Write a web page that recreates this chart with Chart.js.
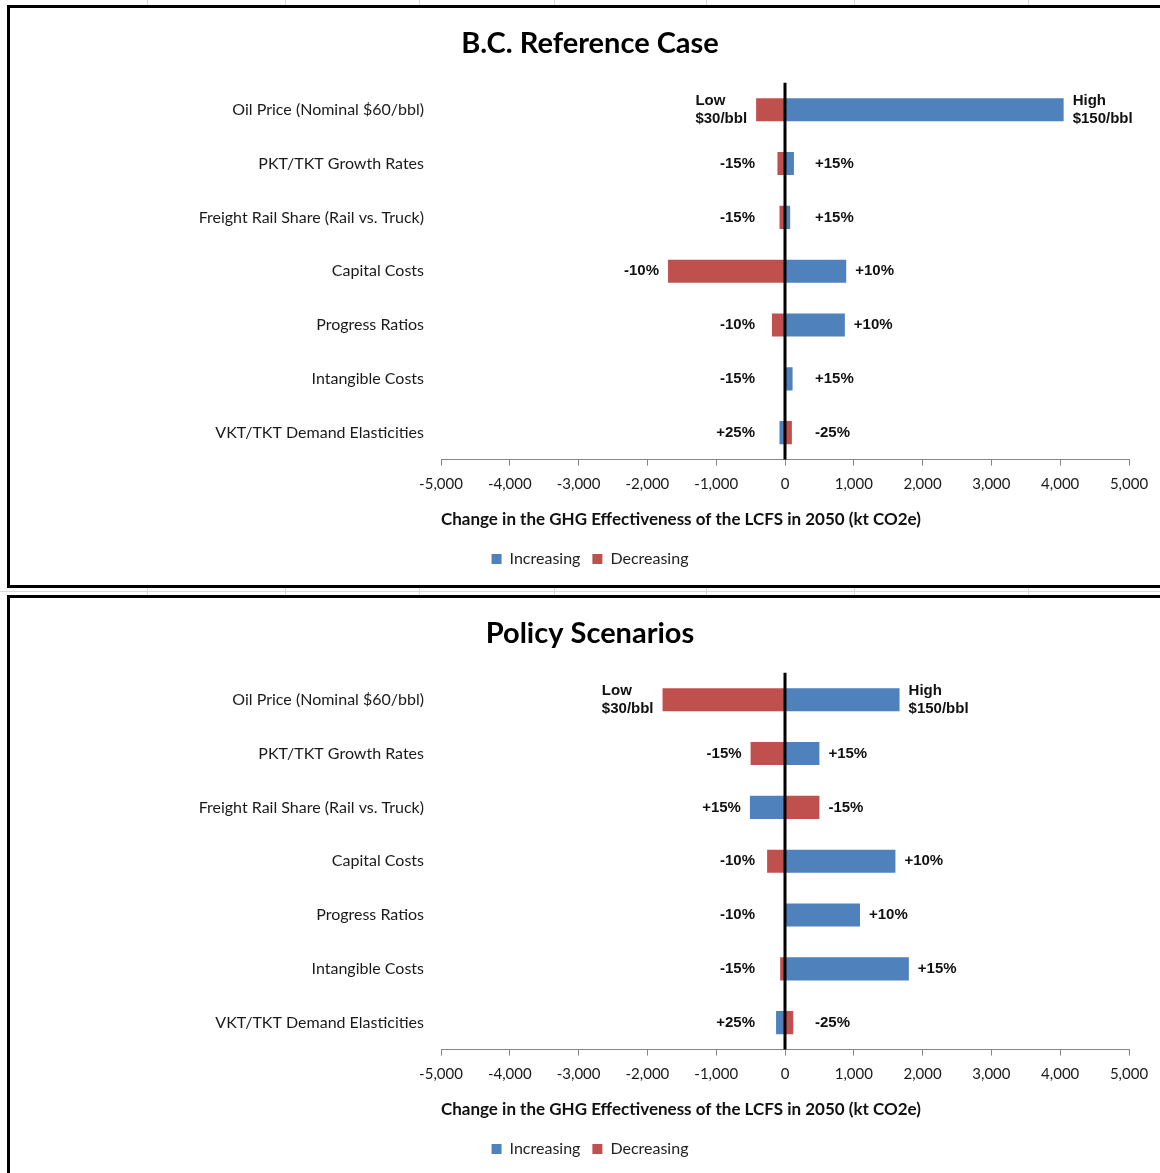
<!DOCTYPE html>
<html>
<head>
<meta charset="utf-8">
<script src="https://cdn.jsdelivr.net/npm/chart.js@4.4.1/dist/chart.umd.min.js"></script>
<style>
  html, body { margin: 0; padding: 0; background: #fff; }
  body { width: 1160px; height: 1173px; position: relative; overflow: hidden; }
  .box { position: absolute; left: 7px; width: 1170px; border: 3px solid #000; background: #fff; }
  #box1 { top: 5px; height: 577px; }
  #box2 { top: 595px; height: 600px; }
  canvas { position: absolute; left: 10px; }
  #chart1 { top: 8px; }
  #chart2 { top: 598px; }
  .cell { position: absolute; background: #d9d9d9; }
</style>
</head>
<body>
<div class="cell" style="left:0;top:591px;width:1160px;height:1px"></div>
<div class="cell" style="left:147px;top:0;width:1px;height:596px"></div>
<div class="cell" style="left:285px;top:0;width:1px;height:596px"></div>
<div class="cell" style="left:419px;top:0;width:1px;height:596px"></div>
<div class="cell" style="left:554px;top:0;width:1px;height:596px"></div>
<div class="cell" style="left:706px;top:0;width:1px;height:596px"></div>
<div class="cell" style="left:854px;top:0;width:1px;height:596px"></div>
<div class="cell" style="left:1028px;top:0;width:1px;height:596px"></div>
<div class="box" id="box1"></div>
<div class="box" id="box2"></div>
<canvas id="chart1" width="1150" height="577"></canvas>
<canvas id="chart2" width="1150" height="577"></canvas>
<script>
const categories = [
  "Oil Price (Nominal $60/bbl)",
  "PKT/TKT Growth Rates",
  "Freight Rail Share (Rail vs. Truck)",
  "Capital Costs",
  "Progress Ratios",
  "Intangible Costs",
  "VKT/TKT Demand Elasticities"
];
const xTickValues = [-5000, -4000, -3000, -2000, -1000, 0, 1000, 2000, 3000, 4000, 5000];

// B.C. Reference Case (kt CO2e)
const refIncreasing = [4050, 130, 75, 890, 870, 110, -80];
const refDecreasing = [-420, -110, -80, -1700, -190, -15, 100];
const refLowLabels = ["Low\n$30/bbl", "-15%", "-15%", "-10%", "-10%", "-15%", "+25%"];
const refHighLabels = ["High\n$150/bbl", "+15%", "+15%", "+10%", "+10%", "+15%", "-25%"];

// Policy Scenarios (kt CO2e)
const policyIncreasing = [1665, 500, -510, 1605, 1090, 1800, -130];
const policyDecreasing = [-1780, -500, 500, -260, 0, -70, 120];
const policyLowLabels = ["Low\n$30/bbl", "-15%", "+15%", "-10%", "-10%", "-15%", "+25%"];
const policyHighLabels = ["High\n$150/bbl", "+15%", "-15%", "+10%", "+10%", "+15%", "-25%"];

const BLUE = "#4F81BD";
const RED = "#C0504D";

// black line at zero, drawn over the bars
const zeroLine = {
  id: "zeroLine",
  afterDatasetsDraw(chart) {
    const { ctx, chartArea, scales } = chart;
    const x = scales.x.getPixelForValue(0);
    ctx.save();
    ctx.strokeStyle = "#000";
    ctx.lineWidth = 3;
    ctx.beginPath();
    ctx.moveTo(x, chartArea.top);
    ctx.lineTo(x, chartArea.bottom);
    ctx.stroke();
    ctx.restore();
  }
};

// low / high sensitivity labels either side of each row
const sideLabels = {
  id: "sideLabels",
  afterDatasetsDraw(chart, args, opts) {
    const { ctx, scales } = chart;
    const zero = scales.x.getPixelForValue(0);
    const gap = 9, minOff = 21, lineH = 18;
    ctx.save();
    ctx.font = "bold 15px 'Liberation Sans', Arial, sans-serif";
    ctx.fillStyle = "#111";
    ctx.textBaseline = "middle";
    categories.forEach((c, i) => {
      let left = zero, right = zero, y = 0;
      chart.data.datasets.forEach((ds, d) => {
        const bar = chart.getDatasetMeta(d).data[i];
        left = Math.min(left, bar.x, bar.base);
        right = Math.max(right, bar.x, bar.base);
        y = bar.y;
      });
      const lo = opts.low[i].split("\n");
      const hi = opts.high[i].split("\n");
      const loEnd = Math.min(left, zero - minOff) - gap;
      const loW = Math.max(...lo.map(t => ctx.measureText(t).width));
      ctx.textAlign = "left";
      lo.forEach((t, k) => {
        ctx.fillText(t, loEnd - loW, y + (k - (lo.length - 1) / 2) * lineH);
      });
      const hiStart = Math.max(right, zero + minOff) + gap;
      hi.forEach((t, k) => {
        ctx.fillText(t, hiStart, y + (k - (hi.length - 1) / 2) * lineH);
      });
    });
    ctx.restore();
  }
};

function makeChart(id, title, increasing, decreasing, low, high) {
  return new Chart(document.getElementById(id), {
    type: "bar",
    data: {
      labels: categories,
      datasets: [
        { label: "Increasing", data: increasing, backgroundColor: BLUE },
        { label: "Decreasing", data: decreasing, backgroundColor: RED }
      ]
    },
    options: {
      indexAxis: "y",
      responsive: false,
      animation: false,
      devicePixelRatio: 1,
      categoryPercentage: 1,
      barPercentage: 0.43,
      layout: { padding: { left: 41, right: 31, top: 0, bottom: 8 } },
      scales: {
        x: {
          stacked: true,
          min: -5000,
          max: 5000,
          afterBuildTicks(scale) {
            scale.ticks = xTickValues.map(v => ({ value: v }));
          },
          grid: {
            drawOnChartArea: false,
            drawTicks: true,
            tickLength: 6,
            tickColor: "#868686",
            tickWidth: 1
          },
          border: { color: "#868686", width: 1 },
          ticks: {
            padding: 10,
            color: "#1a1a1a",
            font: { family: "Lato, sans-serif", size: 15 },
            maxRotation: 0,
            callback: v => v.toLocaleString("en-US")
          },
          title: {
            display: true,
            align: "start",
            text: "Change in the GHG Effectiveness of the LCFS in 2050 (kt CO2e)",
            color: "#111",
            font: { family: "Lato, sans-serif", size: 17, weight: "bold" },
            padding: { top: 6, bottom: 9 }
          }
        },
        y: {
          stacked: true,
          grid: { display: false, drawTicks: false },
          border: { display: false },
          afterFit(scale) { scale.width = 390; },
          ticks: {
            padding: 17,
            color: "#1a1a1a",
            font: { family: "Lato, sans-serif", size: 16 }
          }
        }
      },
      plugins: {
        title: {
          display: true,
          text: title,
          color: "#000",
          font: { family: "Lato, sans-serif", size: 29, weight: "bold" },
          padding: { top: 18, bottom: 22 }
        },
        legend: {
          position: "bottom",
          labels: {
            boxWidth: 10,
            boxHeight: 10,
            padding: 12,
            color: "#222",
            font: { family: "Lato, sans-serif", size: 16 }
          }
        },
        tooltip: { enabled: false },
        sideLabels: { low: low, high: high }
      }
    },
    plugins: [zeroLine, sideLabels]
  });
}

makeChart("chart1", "B.C. Reference Case", refIncreasing, refDecreasing, refLowLabels, refHighLabels);
makeChart("chart2", "Policy Scenarios", policyIncreasing, policyDecreasing, policyLowLabels, policyHighLabels);
</script>
</body>
</html>
